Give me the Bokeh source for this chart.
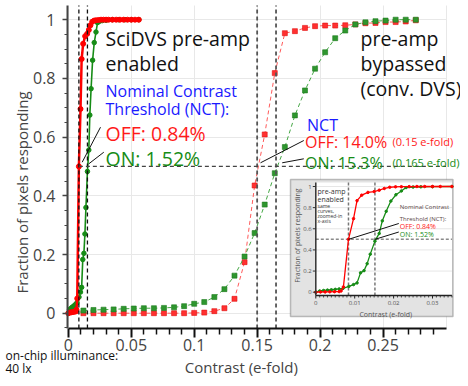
import math
import numpy as np
from bokeh.plotting import figure
from bokeh.models import Range1d, FixedTicker, Label, BoxAnnotation
from bokeh.core.properties import value
from bokeh.embed import file_html
from bokeh.resources import INLINE

# ---------------- data ----------------
# SciDVS, pre-amp enabled: OFF (red) and ON (green) cumulative responses
off_en_x = [0.0, 0.0012, 0.0024, 0.0036, 0.0048, 0.006, 0.0065, 0.0071, 0.0084, 0.0097, 0.0106,
            0.0118, 0.0134, 0.015, 0.0163, 0.0176, 0.019, 0.0205, 0.022, 0.024, 0.026, 0.028,
            0.030, 0.032, 0.035, 0.038, 0.041, 0.044, 0.047, 0.050, 0.053, 0.056]
off_en_y = [0.0, 0.002, 0.003, 0.004, 0.005, 0.006, 0.012, 0.05, 0.50, 0.696, 0.866,
            0.918, 0.944, 0.952, 0.965, 0.981, 0.993, 0.997, 0.998, 0.999, 1.0, 1.0,
            1.0, 1.0, 1.0, 1.0, 1.0, 1.0, 1.0, 1.0, 1.0, 1.0]
on_en_x = [0.0, 0.001, 0.002, 0.003, 0.004, 0.005, 0.006, 0.007, 0.0085, 0.0097, 0.0106,
           0.0115, 0.0124, 0.0132, 0.0140, 0.0152, 0.0163, 0.0171, 0.0181, 0.0193, 0.0206,
           0.0220, 0.0232, 0.025, 0.027, 0.030, 0.035, 0.040, 0.045, 0.050, 0.056]
on_en_y = [0.0, 0.012, 0.016, 0.02, 0.023, 0.027, 0.031, 0.036, 0.055, 0.072, 0.088,
           0.183, 0.204, 0.27, 0.36, 0.483, 0.556, 0.675, 0.765, 0.862, 0.922,
           0.958, 0.99, 0.995, 0.997, 0.998, 1.0, 1.0, 1.0, 1.0, 1.0]

# pre-amp bypassed (conventional DVS)
byp_x = [0.012, 0.020, 0.028, 0.036, 0.044, 0.052, 0.060, 0.068, 0.076, 0.084, 0.092,
         0.100, 0.108, 0.116, 0.124, 0.132, 0.140, 0.148, 0.156, 0.164, 0.172, 0.180,
         0.188, 0.196, 0.204, 0.212, 0.220, 0.228, 0.236, 0.244, 0.252, 0.260, 0.268, 0.276]
off_byp_y = [0.0, 0.0, 0.0, 0.0, 0.0, 0.0, 0.0, 0.0, 0.0, 0.0, 0.0,
             0.001, 0.002, 0.007, 0.017, 0.049, 0.174, 0.435, 0.609, 0.818, 0.954, 0.961,
             0.972, 0.978, 0.980, 0.980, 0.981, 0.984, 0.988, 0.989, 0.992, 0.992, 0.994, 0.998]
on_byp_y = [0.009, 0.011, 0.012, 0.013, 0.015, 0.016, 0.017, 0.017, 0.018, 0.020, 0.024,
            0.032, 0.038, 0.055, 0.082, 0.128, 0.193, 0.273, 0.370, 0.477, 0.566, 0.674,
            0.759, 0.833, 0.889, 0.937, 0.963, 0.984, 0.991, 0.995, 0.997, 1.0, 1.0, 1.0]

# nominal contrast thresholds [OFF, ON]
nct_en = [0.0084, 0.0152]
nct_byp = [0.15, 0.165]

# ticks
x_ticks = [0, 0.05, 0.1, 0.15, 0.2, 0.25]
x_tick_labels = ["0", "0.05", "0.1", "0.15", "0.2", "0.25"]
x_grid = [0, 0.05, 0.1, 0.15, 0.2, 0.25, 0.3]
y_ticks = [0, 0.2, 0.4, 0.6, 0.8, 1]
y_tick_labels = ["0", "0.2", "0.4", "0.6", "0.8", "1"]
inset_xticks = [0, 0.01, 0.02, 0.03]
inset_xtick_labels = ["0", "0.01", "0.02", "0.03"]
inset_yticks = [0, 0.2, 0.4, 0.6, 0.8, 1]
inset_ytick_labels = ["0", "0.2", "0.4", "0.6", "0.8", "1"]

RED = "#ff1a1a"
GREEN = "#168c16"
BLUE = "#1a1aff"
FONT = "Open Sans"

# -------- placement helpers (picture pixel -> main data) --------
X0, XS = 67.8, 1259.0
Y0, YS = 312.7, 293.5
def px_x(px): return (px - X0) / XS
def px_y(py): return (Y0 - py) / YS

W, H = 460, 378
X_AX, Y_AX_BOT, Y_AX_TOP = px_x(67), px_y(328), px_y(5)   # plot-area edges

p = figure(width=W, height=H, output_backend="svg", toolbar_location=None,
           x_range=Range1d(px_x(0), px_x(W)), y_range=Range1d(px_y(H), px_y(0)),
           min_border_left=0, min_border_right=0, min_border_top=0, min_border_bottom=0)
p.outline_line_color = None
p.background_fill_color = "white"
p.border_fill_color = "white"

xa = p.xaxis[0]
ya = p.yaxis[0]
xa.fixed_location = Y_AX_BOT
ya.fixed_location = X_AX
xa.ticker = FixedTicker(ticks=x_ticks, minor_ticks=[round(v, 3) for v in np.arange(0.01, 0.295, 0.01) if round(v, 3) not in x_ticks])
xa.major_label_overrides = dict(zip(x_ticks, x_tick_labels))
xa.bounds = (0, 0.3)
ya.ticker = FixedTicker(ticks=y_ticks, minor_ticks=[round(v, 3) for v in np.arange(-0.05, 1.001, 0.05) if round(v, 3) not in y_ticks])
ya.major_label_overrides = dict(zip(y_ticks, y_tick_labels))
ya.bounds = (Y_AX_BOT, Y_AX_TOP)
for ax, col in ((xa, "#111111"), (ya, "#444444")):
    ax.major_label_text_font = FONT
    ax.major_label_text_font_size = "16px"
    ax.major_label_text_color = "#444444"
    ax.axis_line_color = col
    ax.axis_line_width = 2
    ax.major_tick_line_color = col
    ax.minor_tick_line_color = col
    ax.major_tick_in = 0
    ax.minor_tick_in = 0
xa.major_tick_out = 9
xa.minor_tick_out = 6
xa.major_tick_line_width = 2
xa.minor_tick_line_width = 1.5
xa.major_label_standoff = 1
ya.major_tick_out = 5
ya.minor_tick_out = 3
ya.major_tick_line_width = 1.5
ya.minor_tick_line_width = 1.2
ya.major_label_standoff = 7

p.xgrid.ticker = FixedTicker(ticks=x_grid)
p.ygrid.ticker = FixedTicker(ticks=y_ticks)
p.xgrid.cross_bounds = (Y_AX_BOT, Y_AX_TOP)
p.ygrid.cross_bounds = (X_AX, 0.3)
for g in (p.xgrid[0], p.ygrid[0]):
    g.grid_line_color = "#e8e8e8"
    g.grid_line_width = 1

# ---- main curves ----
p.line(byp_x, off_byp_y, line_color="#ff5a5a", line_dash="4 3", line_width=1)
p.scatter(byp_x, off_byp_y, marker="square", size=5, fill_color="#ff3030", line_color="#e01010", line_width=0.6)
p.line(byp_x, on_byp_y, line_color="#45a845", line_dash="4 3", line_width=1)
p.scatter(byp_x, on_byp_y, marker="square", size=5, fill_color="#2e962e", line_color="#1c7a1c", line_width=0.6)
p.line(on_en_x, on_en_y, line_color=GREEN, line_width=1.6)
p.scatter(on_en_x, on_en_y, size=4.5, fill_color=GREEN, line_color=GREEN)
p.line(off_en_x, off_en_y, line_color="#ff0000", line_width=2.5)
p.scatter(off_en_x, off_en_y, size=5, fill_color="#ff0000", line_color="#ff0000")

# threshold guide lines
p.segment(x0=nct_en, x1=nct_en, y0=[Y_AX_BOT] * 2, y1=[Y_AX_TOP] * 2,
          line_color="#111111", line_dash="4 3", line_width=1.3)
p.segment(x0=nct_byp, x1=nct_byp, y0=[Y_AX_BOT] * 2, y1=[Y_AX_TOP] * 2,
          line_color="#555555", line_dash="4 3", line_width=1.8)
p.segment(x0=[nct_en[0]], y0=[0.5], x1=[0.3], y1=[0.5], line_color="#444444", line_dash="4 3", line_width=1.2)

# pointer lines (annotation positions in picture px)
ptr = [((81.7, 161.7), (100, 126.7)), ((88.3, 163.3), (103.3, 151.7)),
       ((260, 162.3), (303.3, 140)), ((281.7, 162.3), (303.3, 158.3))]
p.segment(x0=[px_x(a[0]) for a, b in ptr], y0=[px_y(a[1]) for a, b in ptr],
          x1=[px_x(b[0]) for a, b in ptr], y1=[px_y(b[1]) for a, b in ptr],
          line_color="#111111", line_width=1)

def lab(text, xpx, ypx, size, color, align="left", angle=0.0):
    p.add_layout(Label(x=px_x(xpx), y=px_y(ypx), text=text, text_font=FONT,
                       text_font_size=f"{size}px", text_color=color, text_align=align,
                       text_baseline="alphabetic", angle=angle))

lab("SciDVS pre-amp", 105, 38.3, 19.5, "#111111")
lab("enabled", 105, 63.3, 19.5, "#111111")
lab("Nominal Contrast", 105, 90, 16, BLUE)
lab("Threshold (NCT):", 105, 108.5, 16, BLUE)
lab("OFF: 0.84%", 105, 132.7, 19.5, RED)
lab("ON: 1.52%", 105, 158.3, 19.5, GREEN)
lab("pre-amp", 360, 38.3, 19.5, "#111111")
lab("bypassed", 360, 63.3, 19.5, "#111111")
lab("(conv. DVS)", 360, 87.7, 19.5, "#111111")
lab("NCT", 306.5, 124, 16, BLUE)
lab("OFF: 14.0%", 304.5, 141.7, 16, RED)
lab("(0.15 e-fold)", 392, 140.7, 11, RED)
lab("ON: 15.3%", 304.5, 162.7, 16, GREEN)
lab("(0.165 e-fold)", 392, 161.7, 11, GREEN)
lab("on-chip illuminance:", 5, 355, 12, "#111111")
lab("40 lx", 5, 367.5, 12, "#111111")
lab("Contrast (e-fold)", 240.8, 366, 15, "#444444", "center")
lab("Fraction of pixels responding", 21.5, 192, 15, "#444444", "center", math.pi / 2)

# ---------------- inset ----------------
IX0, IXS = 315.3, 3890.0
IY0, IYS = 291.7, 105.7
def ix(px): return (px - IX0) / IXS
def iy(py): return (IY0 - py) / IYS

p.add_layout(BoxAnnotation(left=px_x(290), right=px_x(452.5), top=px_y(179), bottom=px_y(316),
                           fill_color="#e3e3e3", fill_alpha=1, line_color="#333333", line_width=1.5,
                           level="underlay"))
p.add_layout(BoxAnnotation(left=px_x(315.3), right=px_x(451.5), top=px_y(182), bottom=px_y(295),
                           fill_color="white", fill_alpha=1, line_color=None, level="underlay"))

sub = p.subplot(x_source=Range1d(0, 0.035), y_source=Range1d(0, 1),
                x_target=Range1d(px_x(IX0), px_x(IX0 + 0.035 * IXS)),
                y_target=Range1d(px_y(IY0), px_y(IY0 - IYS)))
ybot, ytop, xr = iy(295), iy(182), 0.035

# inset grid
gy = [t for t in inset_yticks if t > 0]
sub.segment(x0=[0] * len(gy), x1=[xr] * len(gy), y0=gy, y1=gy, line_color="#e6e6e6", line_width=1)
# inset threshold lines
sub.segment(x0=nct_en, x1=nct_en, y0=[ybot] * 2, y1=[ytop] * 2, line_color="#777777", line_dash="3 2", line_width=1.5)
sub.segment(x0=[0], x1=[xr], y0=[0.5], y1=[0.5], line_color="#8a8a8a", line_dash="3 2", line_width=1.5)

# inset curves (same data, zoomed x)
ioff = [(x, y) for x, y in zip(off_en_x, off_en_y) if x <= xr]
ion = [(x, y) for x, y in zip(on_en_x, on_en_y) if x <= xr]
sub.line([a for a, b in ion], [b for a, b in ion], line_color=GREEN, line_width=1.3)
sub.scatter([a for a, b in ion], [b for a, b in ion], size=2.5, color=GREEN)
sub.line([a for a, b in ioff], [b for a, b in ioff], line_color="#ff0000", line_width=1.3)
sub.scatter([a for a, b in ioff], [b for a, b in ioff], size=2.5, color="#ff0000")

# inset pointer lines
sub.segment(x0=nct_en, y0=[0.5, 0.5], x1=[ix(398.3)] * 2, y1=[iy(223), iy(231.5)],
            line_color="#111111", line_width=1)

# inset axes
sub.segment(x0=[0], x1=[0], y0=[ybot], y1=[ytop], line_color="#333333", line_width=1.5)
sub.segment(x0=[0], x1=[xr], y0=[ybot], y1=[ybot], line_color="#222222", line_width=1.5)
sub.segment(x0=inset_xticks, x1=inset_xticks, y0=[ybot] * 4, y1=[ybot - 3 / IYS] * 4, line_color="#222222", line_width=1)
iminor = [round(v, 4) for v in np.arange(0.001, 0.0351, 0.001) if round(v, 4) not in inset_xticks]
sub.segment(x0=iminor, x1=iminor, y0=[ybot] * len(iminor), y1=[ybot - 2 / IYS] * len(iminor), line_color="#222222", line_width=0.8)
sub.segment(x0=[0] * 6, x1=[-3 / IXS] * 6, y0=inset_yticks, y1=inset_yticks, line_color="#333333", line_width=1)
sub.text(x=inset_xticks, y=[ybot] * 4, text=inset_xtick_labels, y_offset=5,
         text_font=value(FONT), text_font_size=value("6px"), text_color=value("#555555"),
         text_align="center", text_baseline="top")
sub.text(x=[0] * 6, y=inset_yticks, text=inset_ytick_labels, x_offset=-4,
         text_font=value(FONT), text_font_size=value("6px"), text_color=value("#555555"),
         text_align="right", text_baseline="middle")

lab("pre-amp", 317, 191, 7, "#333333")
lab("enabled", 317, 199, 7, "#333333")
lab("same", 317, 205.5, 5, "#333333")
lab("curves,", 317, 210.5, 5, "#333333")
lab("zoomed-in", 317, 215.5, 5, "#333333")
lab("x-axis", 317, 220.5, 5, "#333333")
lab("Nominal Contrast", 399.3, 206.5, 6, "#5a4646")
lab("Threshold (NCT):", 399.3, 218, 6, "#5a4646")
lab("OFF: 0.84%", 399.3, 225.5, 7, RED)
lab("ON: 1.52%", 399.3, 234, 7, GREEN)
lab("Contrast (e-fold)", 385.3, 314, 7, "#555555", "center")
lab("Fraction of pixels responding", 297, 235, 7, "#555555", "center", math.pi / 2)

open("out.html", "w").write(file_html(p, INLINE))
